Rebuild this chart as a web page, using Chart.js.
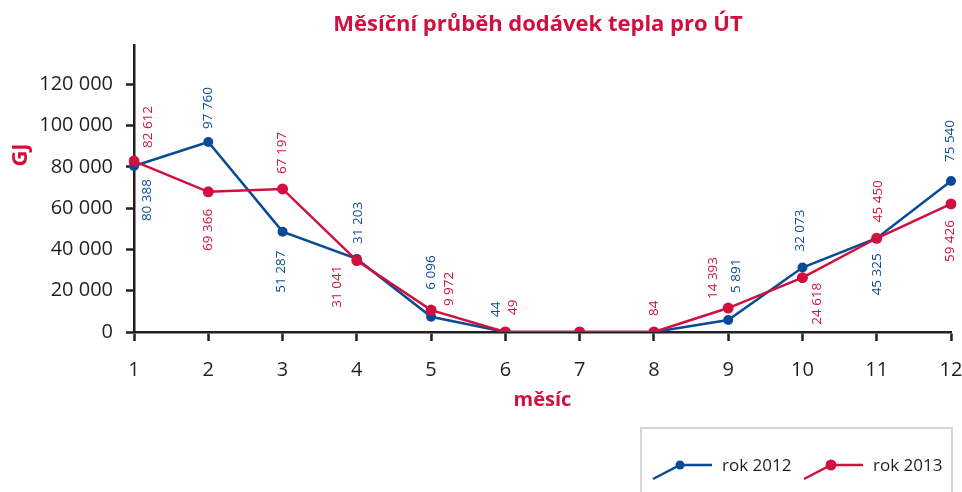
<!DOCTYPE html>
<html>
<head>
<meta charset="utf-8">
<script src="https://cdn.jsdelivr.net/npm/chart.js@4"></script>
<style>
  html, body { margin: 0; padding: 0; background: #fff; }
  #wrap { width: 962px; height: 492px; }
</style>
</head>
<body>
<div id="wrap"><canvas id="chart" width="962" height="492"></canvas></div>
<script>
// months on the x axis
const months = ["1", "2", "3", "4", "5", "6", "7", "8", "9", "10", "11", "12"];

// plotted values (GJ)
const values2012 = [80400, 92000, 48600, 35400, 7400, 0, 0, 0, 5800, 31200, 45400, 73100];
const values2013 = [82800, 67900, 69300, 34600, 10600, 0, 0, 0, 11600, 26300, 45400, 62000];

// value labels printed next to the points
const labels2012 = ["80 388", "97 760", "51 287", "31 203", "6 096", "44", "", "", "5 891", "32 073", "45 325", "75 540"];
const labels2013 = ["82 612", "69 366", "67 197", "31 041", "9 972", "49", "", "84", "14 393", "24 618", "45 450", "59 426"];

// y axis ticks
const yTicks = [0, 20000, 40000, 60000, 80000, 100000, 120000];

const BLUE = "#0b4a96";
const RED = "#d0103f";
const DARK = "#231f20";
const FONT = "'Open Sans', sans-serif";

// label placement: [dx, dy, side] relative to the point, side "up" = text starts at anchor
const labelPos2012 = [
  [13, 13, "down"], [0, -13, "up"], [-1, 19, "down"], [1, -15, "up"], [0, -27, "up"], [-9, -15, "up"],
  [0, 0, "up"], [0, 0, "up"], [8, -27, "up"], [-2, -16, "up"], [0, 15, "down"], [-1, -19, "up"],
];
const labelPos2013 = [
  [14, -13, "up"], [0, 17, "down"], [0, -15, "up"], [-20, 5, "down"], [18, -4, "up"], [8, -17, "up"],
  [0, 0, "up"], [0, -16, "up"], [-15, -9, "up"], [15, 5, "down"], [1, -16, "up"], [-1, 16, "down"],
];

function formatThousands(v) {
  return String(v).replace(/\B(?=(\d{3})+(?!\d))/g, " ");
}

// Draws the rotated value labels next to each point
const valueLabels = {
  id: "valueLabels",
  afterDatasetsDraw(chart) {
    const ctx = chart.ctx;
    chart.data.datasets.forEach((ds, i) => {
      const meta = chart.getDatasetMeta(i);
      ds.pointLabels.forEach((text, j) => {
        if (!text) return;
        const pt = meta.data[j];
        const [dx, dy, side] = ds.labelPos[j];
        ctx.save();
        ctx.translate(pt.x + dx, pt.y + dy);
        ctx.rotate(-Math.PI / 2);
        ctx.font = "13.5px " + FONT;
        ctx.fillStyle = ds.borderColor;
        ctx.textBaseline = "middle";
        ctx.textAlign = side === "up" ? "left" : "right";
        ctx.fillText(text, 0, 0);
        ctx.restore();
      });
    });
  },
};

// Title, y axis title and the framed legend
const extras = {
  id: "extras",
  afterDraw(chart) {
    const ctx = chart.ctx;
    ctx.save();
    ctx.fillStyle = RED;
    ctx.font = "bold 22px " + FONT;
    ctx.textAlign = "center";
    ctx.textBaseline = "middle";
    ctx.fillText("Měsíční průběh dodávek tepla pro ÚT", 538, 25);

    ctx.save();
    ctx.translate(21, 155);
    ctx.rotate(-Math.PI / 2);
    ctx.fillText("GJ", 0, 0);
    ctx.restore();

    // legend frame
    ctx.strokeStyle = "#d6d6d6";
    ctx.lineWidth = 2;
    ctx.strokeRect(641, 428, 311, 80);

    const starts = [653, 804];
    [0, 1].forEach((k) => {
      const ds = chart.data.datasets[k];
      const x = starts[k];
      ctx.strokeStyle = ds.borderColor;
      ctx.lineWidth = 2.5;
      ctx.beginPath();
      ctx.moveTo(x, 479);
      ctx.lineTo(x + 27, 465);
      ctx.lineTo(x + 59, 465);
      ctx.stroke();
      ctx.fillStyle = ds.borderColor;
      ctx.beginPath();
      ctx.arc(x + 27, 465, k === 0 ? 4.5 : 5.5, 0, Math.PI * 2);
      ctx.fill();
      ctx.fillStyle = DARK;
      ctx.font = "17px " + FONT;
      ctx.textAlign = "left";
      ctx.fillText(ds.label, x + 69, 466);
    });
    ctx.restore();
  },
};

const ctx = document.getElementById("chart").getContext("2d");

new Chart(ctx, {
  type: "line",
  data: {
    labels: months,
    datasets: [
      {
        label: "rok 2012",
        data: values2012,
        borderColor: BLUE,
        backgroundColor: BLUE,
        borderWidth: 2.5,
        pointRadius: 5,
        pointBorderWidth: 0,
        tension: 0,
        order: 1,
        pointLabels: labels2012,
        labelPos: labelPos2012,
      },
      {
        label: "rok 2013",
        data: values2013,
        borderColor: RED,
        backgroundColor: RED,
        borderWidth: 2.5,
        pointRadius: 5.5,
        pointBorderWidth: 0,
        tension: 0,
        order: 0,
        pointLabels: labels2013,
        labelPos: labelPos2013,
      },
    ],
  },
  options: {
    responsive: false,
    animation: false,
    layout: {
      padding: { top: 45, right: 0, bottom: 60, left: 0 },
    },
    scales: {
      x: {
        offset: false,
        afterFit: (scale) => {
          scale.height = 100;
          scale.paddingLeft = 0;
          scale.paddingRight = 11;
        },
        grid: {
          drawOnChartArea: false,
          drawTicks: true,
          tickLength: 9,
          tickWidth: 2.5,
          tickColor: DARK,
        },
        border: { display: true, color: DARK, width: 2.5 },
        ticks: {
          color: DARK,
          font: { family: FONT, size: 20 },
          padding: 17,
          maxRotation: 0,
        },
        title: {
          display: true,
          text: "měsíc",
          color: RED,
          font: { family: FONT, size: 20, weight: "bold" },
          padding: { top: 0, bottom: 20 },
        },
      },
      y: {
        min: 0,
        max: 139000,
        afterFit: (scale) => { scale.width = 134; },
        afterBuildTicks: (scale) => {
          scale.ticks = yTicks.map((v) => ({ value: v }));
        },
        grid: {
          drawOnChartArea: false,
          drawTicks: true,
          tickLength: 8,
          tickWidth: 2.5,
          tickColor: DARK,
        },
        border: { display: true, color: DARK, width: 2.5 },
        ticks: {
          color: DARK,
          font: { family: FONT, size: 20 },
          padding: 13,
          callback: (v) => formatThousands(v),
        },
      },
    },
    plugins: {
      legend: { display: false },
      tooltip: { enabled: false },
    },
  },
  plugins: [valueLabels, extras],
});
</script>
</body>
</html>
